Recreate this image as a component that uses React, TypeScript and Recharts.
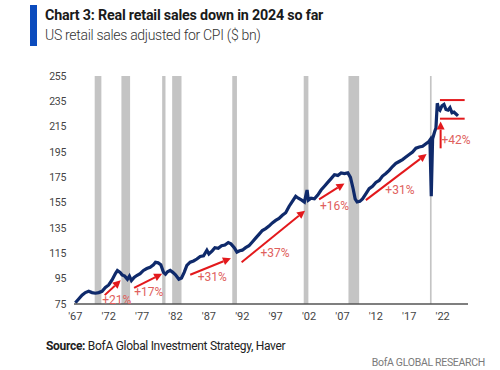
import React from "react";
import {
  Line,
  LineChart,
  ReferenceArea,
  ReferenceDot,
  ReferenceLine,
  XAxis,
  YAxis,
} from "recharts";

const years = [
  1967.0, 1967.5, 1968.0, 1968.5, 1969.0, 1969.5, 1970.0, 1970.5, 1971.0, 1971.5,
  1972.0, 1972.5, 1973.0, 1973.3, 1973.7, 1974.0, 1974.4, 1974.8, 1975.1, 1975.4,
  1975.8, 1976.2, 1976.7, 1977.2, 1977.7, 1978.2, 1978.7, 1979.0, 1979.4, 1979.8,
  1980.2, 1980.5, 1980.8, 1981.2, 1981.6, 1982.0, 1982.5, 1982.9, 1983.3, 1983.7,
  1984.2, 1984.7, 1985.2, 1985.7, 1986.2, 1986.7, 1987.0, 1987.5, 1987.9, 1988.4,
  1988.9, 1989.4, 1989.9, 1990.3, 1990.8, 1991.2, 1991.6, 1992.0, 1992.5, 1993.0,
  1993.5, 1994.0, 1994.5, 1995.0, 1995.5, 1996.0, 1996.5, 1997.0, 1997.5, 1998.0,
  1998.5, 1999.0, 1999.5, 2000.0, 2000.4, 2000.9, 2001.3, 2001.7, 2001.9, 2002.3,
  2002.8, 2003.3, 2003.8, 2004.3, 2004.8, 2005.3, 2005.8, 2006.3, 2006.8, 2007.3,
  2007.8, 2008.2, 2008.6, 2008.9, 2009.2, 2009.6, 2010.0, 2010.5, 2011.0, 2011.5,
  2012.0, 2012.5, 2013.0, 2013.5, 2014.0, 2014.5, 2015.0, 2015.5, 2016.0, 2016.5,
  2017.0, 2017.5, 2018.0, 2018.5, 2019.0, 2019.5, 2019.9, 2020.1, 2020.3, 2020.5,
  2020.8, 2021.0, 2021.2, 2021.4, 2021.6, 2021.9, 2022.2, 2022.5, 2022.8, 2023.1,
  2023.4, 2023.7, 2024.0, 2024.3,
];
const sales = [
  76, 79, 82, 84, 85, 84, 83.5, 84, 85, 88,
  90, 94, 99, 101.5, 100, 98, 97, 94.5, 97, 93.5,
  96, 97.5, 99, 101.5, 103, 104, 106, 108, 107.5, 106,
  100, 98.5, 100.5, 101.5, 100, 98, 94.5, 95.5, 100, 105.5,
  108, 109, 110.5, 112.5, 113, 117.5, 114.5, 117, 119.5, 119,
  121, 121.5, 123.5, 122.5, 119.5, 116, 117, 117.5, 119.5, 121,
  124, 127, 130, 133, 134.5, 136.5, 139, 141, 142.5, 145,
  147, 152, 156, 160, 158.5, 157, 155.5, 165, 157, 158.5,
  158, 161, 165, 168, 171, 174, 177, 176.5, 178.5, 178,
  178.5, 175, 166, 158, 155.5, 156, 158, 162, 166, 168,
  171, 172.5, 176, 178, 180.5, 183.5, 186, 187.5, 189, 191,
  193, 195, 198, 199, 199.5, 201.5, 203, 204.5, 160, 205.5,
  211, 214, 233.5, 229, 228, 231.5, 232.5, 228.5, 228, 230,
  226, 226.5, 225, 223.5,
];

// NBER recessions
const recStart = [1969.9, 1973.9, 1980.0, 1981.5, 1990.5, 2001.2, 2007.9, 2020.1];
const recEnd = [1970.9, 1975.2, 1980.5, 1982.9, 1991.2, 2001.9, 2009.5, 2020.35];

const xTicks = [1967, 1972, 1977, 1982, 1987, 1992, 1997, 2002, 2007, 2012, 2017, 2022];
const yTicks = [75, 95, 115, 135, 155, 175, 195, 215, 235, 255];

// growth arrows: start (x,y) -> end (x,y), label at (x,y)
const arrowX1 = [1971.4, 1975.8, 1984.2, 1991.9, 2003.5, 2010.5, 2021.7];
const arrowY1 = [82, 87.7, 98.1, 108, 157.6, 157, 197.9];
const arrowX2 = [1973.8, 1980.0, 1990.3, 2001.4, 2007.3, 2019.6, 2021.7];
const arrowY2 = [93.7, 98.9, 111.1, 148.7, 170.2, 193.4, 219];
const growthLabels = ["+21%", "+17%", "+31%", "+37%", "+16%", "+31%", "+42%"];
const labelX = [1973.2, 1978.0, 1987.5, 1996.9, 2005.8, 2015.6, 2024.0];
const labelY = [78.6, 84.6, 96.8, 115.5, 152.6, 165, 204.4];

// horizontal brackets around post-covid level
const bracketY = [236, 221.3];
const bracketX = [2021.6, 2025.3];

const data = years.map((year, i) => ({ year, sales: sales[i] }));

const RED = "#e3191c";

function Arrow(props: any) {
  const { x1, y1, x2, y2 } = props;
  const ang = Math.atan2(y2 - y1, x2 - x1);
  const len = 8;
  const w = 4;
  const bx = x2 - len * Math.cos(ang);
  const by = y2 - len * Math.sin(ang);
  const px = -Math.sin(ang) * w;
  const py = Math.cos(ang) * w;
  return (
    <g>
      <line x1={x1} y1={y1} x2={bx} y2={by} stroke={RED} strokeWidth={2} />
      <polygon
        points={`${x2},${y2} ${bx + px},${by + py} ${bx - px},${by - py}`}
        fill={RED}
      />
    </g>
  );
}

export default function App() {
  return (
    <div
      style={{
        position: "absolute",
        left: 0,
        top: 0,
        width: 500,
        height: 370,
        background: "#fff",
        fontFamily: "Roboto, sans-serif",
      }}
    >
      <div style={{ position: "absolute", left: 30, top: 5, width: 7, height: 41, background: "#0b4bbd" }} />
      <div
        style={{
          position: "absolute",
          left: 45,
          top: 7,
          fontSize: 14.3,
          fontWeight: 700,
          color: "#1a1a1a",
          whiteSpace: "nowrap",
          letterSpacing: -0.2,
        }}
      >
        Chart 3: Real retail sales down in 2024 so far
      </div>
      <div
        style={{
          position: "absolute",
          left: 45,
          top: 27,
          fontSize: 14,
          fontWeight: 300,
          color: "#333",
          whiteSpace: "nowrap",
          letterSpacing: -0.3,
        }}
      >
        US retail sales adjusted for CPI ($ bn)
      </div>

      <div style={{ position: "absolute", left: 0, top: 0 }}>
        <LineChart
          width={500}
          height={370}
          data={data}
          margin={{ top: 76, right: 32, bottom: 36, left: 14 }}
        >
          {recStart.map((s, i) => (
            <ReferenceArea
              key={"r" + i}
              x1={s}
              x2={recEnd[i]}
              y1={75}
              y2={255}
              fill="#c4c4c4"
              fillOpacity={1}
              stroke="none"
            />
          ))}
          <XAxis
            dataKey="year"
            type="number"
            domain={[1966.8, 2025.8]}
            ticks={xTicks}
            tickFormatter={(v) => "'" + String(v).slice(2)}
            tickLine={false}
            axisLine={{ stroke: "#555", strokeWidth: 1.5 }}
            tick={{ fontSize: 11, fill: "#444" }}
            height={30}
          />
          <YAxis
            domain={[75, 255]}
            ticks={yTicks}
            tickLine={false}
            axisLine={false}
            tick={{ fontSize: 10.5, fill: "#444", letterSpacing: -0.3 }}
            width={60}
            interval={0}
          />
          <Line
            dataKey="sales"
            stroke="#0f2a6b"
            strokeWidth={3.2}
            dot={false}
            isAnimationActive={false}
          />
          {arrowX1.map((x, i) => (
            <ReferenceLine
              key={"a" + i}
              segment={[
                { x, y: arrowY1[i] },
                { x: arrowX2[i], y: arrowY2[i] },
              ]}
              shape={Arrow}
            />
          ))}
          {bracketY.map((y, i) => (
            <ReferenceLine
              key={"b" + i}
              segment={[
                { x: bracketX[0], y },
                { x: bracketX[1], y },
              ]}
              stroke={RED}
              strokeWidth={2}
            />
          ))}
          {growthLabels.map((t, i) => (
            <ReferenceDot
              key={"l" + i}
              x={labelX[i]}
              y={labelY[i]}
              r={0}
              fill="none"
              stroke="none"
              label={{ value: t, position: "center", fill: "#e0605c", fontSize: 12 }}
            />
          ))}
        </LineChart>
      </div>

      <div style={{ position: "absolute", left: 46, top: 339, fontSize: 12, color: "#222", whiteSpace: "nowrap", letterSpacing: -0.3 }}>
        <b>Source:</b> BofA Global Investment Strategy, Haver
      </div>
      <div
        style={{
          position: "absolute",
          right: 15,
          top: 356,
          fontSize: 10.5,
          color: "#7a7a7a",
          whiteSpace: "nowrap",
          letterSpacing: -0.3,
        }}
      >
        BofA GLOBAL RESEARCH
      </div>
    </div>
  );
}
